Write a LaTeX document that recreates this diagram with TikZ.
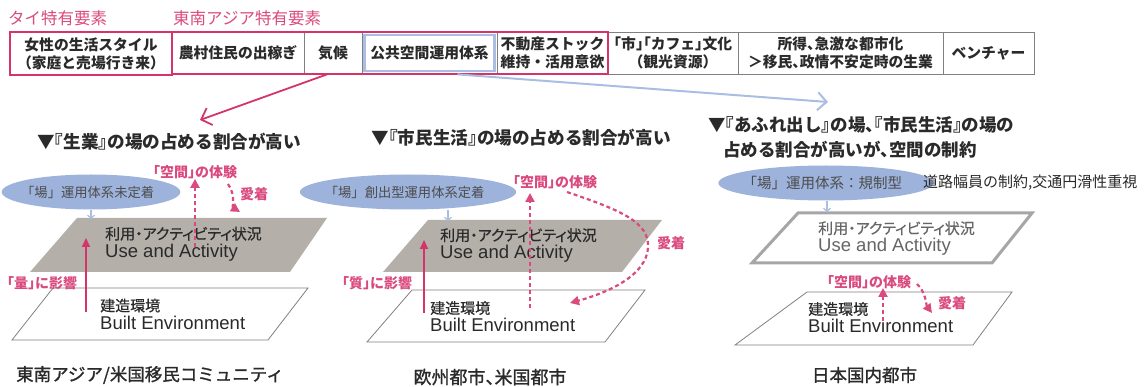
\documentclass[tikz,border=0pt]{standalone}
\usepackage{fontspec}
\setmainfont{Noto Sans CJK JP}
\newfontfamily\jpp{Noto Sans CJK JP}[RawFeature=+palt, FakeBold=0.5]
\newfontfamily\jpmed{Noto Sans CJK JP}[FakeBold=1.2]
\newfontfamily\lat{Liberation Sans}
\usetikzlibrary{arrows.meta,fit,shapes.geometric}
\newcommand\Lbr[1]{\kern-.5em#1}
\newcommand\Rbr[1]{#1\kern-.5em}
\definecolor{pk}{HTML}{D4346A}
\definecolor{lpk}{HTML}{DA4A7E}
\definecolor{bl}{HTML}{9DB3DC}
\definecolor{bll}{HTML}{A9BEE2}
\definecolor{gy}{HTML}{B4AFA9}
\definecolor{tx}{HTML}{2A2A2A}
\definecolor{ln}{HTML}{808080}
\newcommand\en[1]{{\lat\fontsize{18.5}{18}\selectfont #1}}
\tikzset{
  cell/.style={draw=ln, line width=0.8pt, minimum height=42pt, inner sep=0pt, align=center, text=tx, font=\fontsize{14.8}{18}\selectfont\bfseries},
  grp/.style={text=lpk, font=\fontsize{16.5}{18}\selectfont, anchor=west, inner sep=0pt},
  head/.style={text=tx, font=\fontsize{17.6}{25}\selectfont\bfseries, inner sep=0pt},
  foot/.style={text=tx, font=\fontsize{17.5}{20}\selectfont\jpmed, inner sep=0pt},
  ell/.style={ellipse, fill=bl, inner sep=0pt, text=black!70, font=\fontsize{13.3}{16}\selectfont},
  layertxt/.style={anchor=west, align=left, inner sep=0pt, text=tx, font=\fontsize{15}{18}\selectfont\jpp},
  pklab/.style={anchor=west, inner sep=0pt, text=lpk, font=\fontsize{14}{16}\selectfont\bfseries},
  graylayer/.style={fill=gy},
  whitelayer/.style={draw=ln, line width=0.8pt, fill=white},
  pkarrow/.style={pk, line width=2pt, -{Triangle[length=9pt,width=8pt]}},
  pkdash/.style={lpk, line width=2.2pt, dash pattern=on 4pt off 3pt, -{Triangle[length=9pt,width=9pt]}},
  smallbl/.style={bll, line width=1.2pt, -{Straight Barb[length=3pt,width=7pt]}},
}
\begin{document}
\begin{tikzpicture}[x=1pt,y=-1pt]
\useasboundingbox (0,0) rectangle (1146,387);
% ---------- table ----------
\node[cell, minimum width=132pt] (c2) at (238,53) {農村住民の出稼ぎ};
\node[cell, minimum width=58pt] (c3) at (333,53) {気候};
\node[cell, minimum width=135pt] (c4) at (429.5,53) {公共空間運用体系};
\node[cell, minimum width=111pt] (c5) at (552.5,53) {不動産ストック\\維持・活用意欲};
\node[cell, minimum width=130pt] (c6) at (673,53) {\Lbr{「}市\Rbr{」}\Lbr{「}カフェ\Rbr{」}文化\\\Lbr{（}観光資源\Rbr{）}};
\node[cell, minimum width=205pt] (c7) at (840.5,53) {所得\Rbr{、}急激な都市化\\＞移民\Rbr{、}政情不安定時の生業};
\node[cell, minimum width=91pt] (c8) at (988.5,53) {ベンチャー};
\node[draw=pk, line width=2pt, fit=(c2)(c5), inner sep=0pt] (grp) {};
\node[cell, draw=pk, line width=2pt, minimum width=162pt, minimum height=43pt] (c1) at (91,53.5) {女性の生活スタイル\\\Lbr{（}家庭と売場行き来\Rbr{）}};
\node[draw=bll, line width=2.6pt, minimum width=130pt, minimum height=36pt, inner sep=0pt] (c4b) at (429.5,53) {};
\node[grp] (lt) at (8,18) {タイ特有要素};
\node[grp] (le) at (173,18) {東南アジア特有要素};
% ---------- headings ----------
\node[head] (h1) at (169,142) {▼\Lbr{『}生業\Rbr{』}の場の占める割合が高い};
\node[head] (h2) at (521,138) {▼\Lbr{『}市民生活\Rbr{』}の場の占める割合が高い};
\node[head, anchor=west, align=left, font=\fontsize{17.5}{25}\selectfont\bfseries] (h3) at (708,137.5) {▼\Lbr{『}あふれ出し\Rbr{』}の場\Rbr{、}\Lbr{『}市民生活\Rbr{』}の場の\\\hspace*{15pt}占める割合が高いが\Rbr{、}空間の制約};
\coordinate (t1) at (200,120);
\coordinate (t3) at (828,102);
\draw[pk, line width=1.8pt, -{Straight Barb[length=9pt,width=18pt]}] ([xshift=-6pt]c3.south) -- (t1);
\draw[bll, line width=2pt, -{Straight Barb[length=9pt,width=18pt]}] ([xshift=28pt]c4.south) -- (t3);
% ---------- panel 1 ----------
\fill[graylayer] (77,218) -- (327,218) -- (290,272) -- (30,272) -- cycle;
\draw[whitelayer] (53,288) -- (308,288) -- (268,340) -- (12,340) -- cycle;
\node[ell, minimum width=172pt, minimum height=35pt] (e1) at (91,192) {\Lbr{「}場」運用体系未定着};
\coordinate (p1top) at (91,219);
\draw[smallbl] (e1.south) -- (p1top);
\node[layertxt] (u1) at (105,244) {利用・アクティビティ状況\\\en{Use and Activity}};
\node[layertxt] (b1) at (100,314) {建造環境\\\en{Built Environment}};
\coordinate (s1a) at (86,312); \coordinate (s1b) at (86,238);
\draw[pkarrow] (s1a) -- (s1b);
\node[pklab] (q1) at (7,283) {\Lbr{「}量\Rbr{」}に影響};
\node[pklab] (k1) at (153,172) {\Lbr{「}空間\Rbr{」}の体験};
\coordinate (d1a) at (195,247);
\draw[pkdash] (d1a) -- (d1a |- k1.south);
\coordinate (a1s) at (228,184); \coordinate (a1e) at (240,212);
\draw[pkdash] (a1s) .. controls (236,195) and (232,207) .. (a1e);
\node[pklab] (l1) at (240,194) {愛着};
\node[foot] (n1) at (150,375) {東南アジア/米国移民コミュニティ};
% ---------- panel 2 ----------
\fill[graylayer] (428,220) -- (662,220) -- (622,272) -- (383,272) -- cycle;
\draw[whitelayer] (412,290) -- (645,290) -- (605,342) -- (367,342) -- cycle;
\node[ell, minimum width=207pt, minimum height=35pt] (e2) at (408,192) {\Lbr{「}場」創出型運用体系定着};
\coordinate (p2top) at (448,221);
\draw[smallbl] (e2.south -| p2top) -- (p2top);
\node[layertxt] (u2) at (440,245.5) {利用・アクティビティ状況\\\en{Use and Activity}};
\node[layertxt] (b2) at (430,316.5) {建造環境\\\en{Built Environment}};
\coordinate (s2a) at (424,313); \coordinate (s2b) at (424,240);
\draw[pkarrow] (s2a) -- (s2b);
\node[pklab] (q2) at (342,283) {\Lbr{「}質\Rbr{」}に影響};
\node[pklab] (k2) at (513,182) {\Lbr{「}空間\Rbr{」}の体験};
\coordinate (d2a) at (530,308);
\draw[pkdash] (d2a) -- (530,193);
\coordinate (a2s) at (567,192); \coordinate (a2e) at (570,303);
\draw[pkdash] (a2s) .. controls (620,210) and (650,222) .. (648,248) .. controls (646,275) and (610,292) .. (a2e);
\node[pklab] (l2) at (657,243) {愛着};
\node[foot, font=\fontsize{18}{20}\selectfont\jpmed] (n2) at (490,377) {欧州都市\Rbr{、}米国都市};
% ---------- panel 3 ----------
\draw[draw=black!35, line width=3pt, fill=white] (798,213) -- (1032,213) -- (992,263) -- (752,263) -- cycle;
\draw[whitelayer] (807,292) -- (1012,292) -- (973,345) -- (735,345) -- cycle;
\node[ell, minimum width=173pt, minimum height=35pt, font=\fontsize{14.5}{16}\selectfont] (e3) at (826,183) {\Lbr{「}場」運用体系：規制型};
\node[anchor=west, inner sep=0pt, text=tx, font=\fontsize{15}{16}\selectfont] (r3) at (923,183) {道路幅員の制約,交通円滑性重視};
\coordinate (p3top) at (827,212);
\draw[smallbl] (e3.south -| p3top) -- (p3top);
\node[layertxt, text=black!60] (u3) at (818,238.5) {利用・アクティビティ状況\\\en{Use and Activity}};
\node[layertxt] (b3) at (808,317.5) {建造環境\\\en{Built Environment}};
\node[pklab] (k3) at (827,282) {\Lbr{「}空間\Rbr{」}の体験};
\coordinate (d3a) at (883,321);
\draw[pkdash] (d3a) -- (883,288);
\coordinate (a3s) at (917,284); \coordinate (a3e) at (932,313);
\draw[pkdash] (a3s) .. controls (926,292) and (926,305) .. (a3e);
\node[pklab] (l3) at (938,303) {愛着};
\node[foot] (n3) at (864.5,375) {日本国内都市};
\end{tikzpicture}
\end{document}
